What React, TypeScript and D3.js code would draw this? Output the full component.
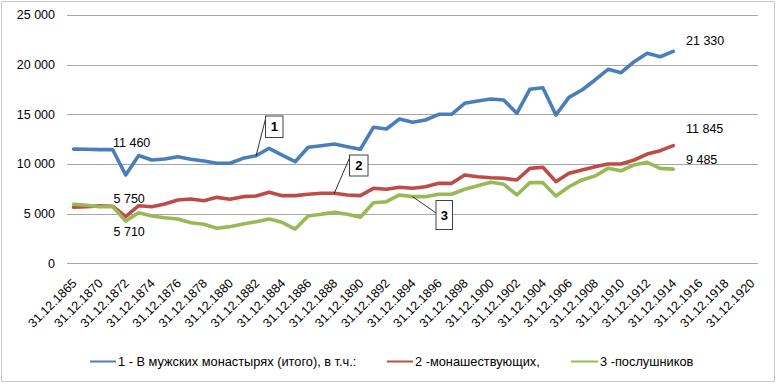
import React from "react";
import * as d3 from "d3";

const categories = [
  "31.12.1865", "31.12.1869", "31.12.1870", "31.12.1871", "31.12.1872", "31.12.1873", "31.12.1874",
  "31.12.1875", "31.12.1876", "31.12.1877", "31.12.1878", "31.12.1879", "31.12.1880", "31.12.1881",
  "31.12.1882", "31.12.1883", "31.12.1884", "31.12.1885", "31.12.1886", "31.12.1887", "31.12.1888",
  "31.12.1889", "31.12.1890", "31.12.1891", "31.12.1892", "31.12.1893", "31.12.1894", "31.12.1895",
  "31.12.1896", "31.12.1897", "31.12.1898", "31.12.1899", "31.12.1900", "31.12.1901", "31.12.1902",
  "31.12.1903", "31.12.1904", "31.12.1905", "31.12.1906", "31.12.1907", "31.12.1908", "31.12.1909",
  "31.12.1910", "31.12.1911", "31.12.1912", "31.12.1913", "31.12.1914", "31.12.1915", "31.12.1916",
  "31.12.1917", "31.12.1918", "31.12.1919", "31.12.1920",
];

const totalMonks = [
  11500, 11480, 11450, 11460, 8890, 10850, 10400, 10500, 10730, 10470, 10300, 10080, 10070, 10570,
  10830, 11580, 10900, 10230, 11680, 11840, 12010, 11740, 11480, 13690, 13520, 14530, 14200, 14430,
  15000, 15000, 16110, 16340, 16540, 16440, 15100, 17520, 17680, 14930, 16710, 17450, 18460, 19530,
  19190, 20300, 21140, 20800, 21330,
];

const tonsured = [
  5650, 5700, 5780, 5750, 4700, 5800, 5700, 5970, 6370, 6470, 6300, 6640, 6440, 6710,
  6780, 7150, 6810, 6810, 6950, 7050, 7050, 6880, 6810, 7550, 7450, 7650, 7550, 7710,
  8050, 8050, 8890, 8720, 8620, 8560, 8390, 9560, 9670, 8220, 9060, 9390, 9730, 10000,
  10000, 10400, 11000, 11340, 11845,
];

const novices = [
  5950, 5850, 5700, 5710, 4250, 5090, 4760, 4590, 4460, 4090, 3930, 3520, 3690, 3960,
  4190, 4460, 4130, 3450, 4760, 4930, 5130, 4930, 4630, 6100, 6200, 6880, 6710, 6710,
  6950, 6950, 7450, 7810, 8160, 7950, 6880, 8120, 8120, 6780, 7710, 8390, 8790, 9560,
  9320, 9900, 10170, 9560, 9485,
];

const yTicks = [0, 5000, 10000, 15000, 20000, 25000];
const yTickLabels = ["0", "5 000", "10 000", "15 000", "20 000", "25 000"];

const seriesNames = [
  "1 - В мужских монастырях (итого), в т.ч.:",
  "2 -монашествующих,",
  "3 -послушников",
];
const seriesColors = ["#4A7EBB", "#BE4B48", "#98B954"];

// data labels: [series index, category index, text]
const dataLabels: [number, number, string][] = [
  [0, 3, "11 460"],
  [1, 3, "5 750"],
  [2, 3, "5 710"],
  [0, 46, "21 330"],
  [1, 46, "11 845"],
  [2, 46, "9 485"],
];

// callouts: [series index, category index, text]
const callouts: [number, number, string][] = [
  [0, 14, "1"],
  [1, 20, "2"],
  [2, 26, "3"],
];

const FONT = "'Liberation Sans', Arial, sans-serif";

export default function App() {
  const W = 780;
  const H = 384;
  const left = 67;
  const right = 758;
  const top = 15;
  const bottom = 263.3;

  const x = d3.scaleBand<string>().domain(categories).range([left, right]).paddingInner(0).paddingOuter(0);
  const bw = x.bandwidth();
  const cx = (i: number) => (x(categories[i]) as number) + bw / 2;
  const y = d3.scaleLinear().domain([0, 25000]).range([bottom, top]);

  const series = [totalMonks, tonsured, novices];
  const line = d3
    .line<number>()
    .x((_, i) => cx(i))
    .y((d) => y(d));

  const labelPos = (s: number, i: number) => {
    if (i === 3) {
      if (s === 0) return { lx: 113, ly: 147 };
      if (s === 1) return { lx: 113.5, ly: 203 };
      return { lx: 113.5, ly: 236 };
    }
    if (s === 0) return { lx: 686, ly: 45 };
    if (s === 1) return { lx: 686, ly: 133 };
    return { lx: 686, ly: 164 };
  };

  const calloutBox = (s: number) => {
    if (s === 0) return { bx: 265.5, by: 116, bw: 17.5, bh: 21.5, lx1: 265.5, ly1: 119 };
    if (s === 1) return { bx: 349.5, by: 155, bw: 18.5, bh: 21, lx1: 349.5, ly1: 158 };
    return { bx: 436, by: 200.5, bw: 16.5, bh: 29, lx1: 436, ly1: 213 };
  };

  return (
    <svg
      width={W}
      height={H}
      style={{ position: "absolute", left: 0, top: 0, display: "block", background: "#fff" }}
    >
      <rect x={1.5} y={1.5} width={773} height={380} fill="#fff" stroke="#c8c8c8" strokeWidth={1} />
      {yTicks.map((t, k) => (
        <g key={t}>
          <line x1={left} x2={right} y1={Math.round(y(t)) + 0.5} y2={Math.round(y(t)) + 0.5} stroke="#A6A6A6" strokeWidth={1} />
          <text x={55} y={y(t)} dy="0.35em" textAnchor="end" fontFamily={FONT} fontSize={12.5} fill="#000">
            {yTickLabels[k]}
          </text>
        </g>
      ))}
      {categories.map((c, i) =>
        i % 2 === 0 ? (
          <text
            key={c}
            transform={`translate(${cx(i) + 4},${284}) rotate(-45)`}
            textAnchor="end"
            fontFamily={FONT}
            fontSize={12.5}
            fill="#000"
          >
            {c}
          </text>
        ) : null
      )}
      {series.map((d, s) => (
        <path key={s} d={line(d) as string} fill="none" stroke={seriesColors[s]} strokeWidth={3.6} strokeLinejoin="round" strokeLinecap="round" />
      ))}
      {dataLabels.map(([s, i, t]) => {
        const p = labelPos(s, i);
        return (
          <text key={`${s}-${i}`} x={p.lx} y={p.ly} fontFamily={FONT} fontSize={12.5} fill="#000">
            {t}
          </text>
        );
      })}
      {callouts.map(([s, i, t]) => {
        const b = calloutBox(s);
        const px = cx(i);
        const py = y(series[s][i]);
        return (
          <g key={t}>
            <line x1={b.lx1} y1={b.ly1} x2={px} y2={py} stroke="#000" strokeWidth={0.8} />
            <rect x={b.bx} y={b.by} width={b.bw} height={b.bh} fill="#fff" stroke="#404040" strokeWidth={1} />
            <text x={b.bx + b.bw / 2} y={b.by + b.bh / 2} dy="0.36em" textAnchor="middle" fontFamily={FONT} fontWeight="bold" fontSize={13} fill="#000">
              {t}
            </text>
          </g>
        );
      })}
      {[
        { x1: 90, x2: 116, tx: 118 },
        { x1: 387, x2: 413, tx: 415 },
        { x1: 571, x2: 598, tx: 600 },
      ].map((g, s) => (
        <g key={s}>
          <line x1={g.x1} x2={g.x2} y1={361.5} y2={361.5} stroke={seriesColors[s]} strokeWidth={2} />
          <text x={g.tx} y={366} fontFamily={FONT} fontSize={12.8} fill="#000">
            {seriesNames[s]}
          </text>
        </g>
      ))}
    </svg>
  );
}
